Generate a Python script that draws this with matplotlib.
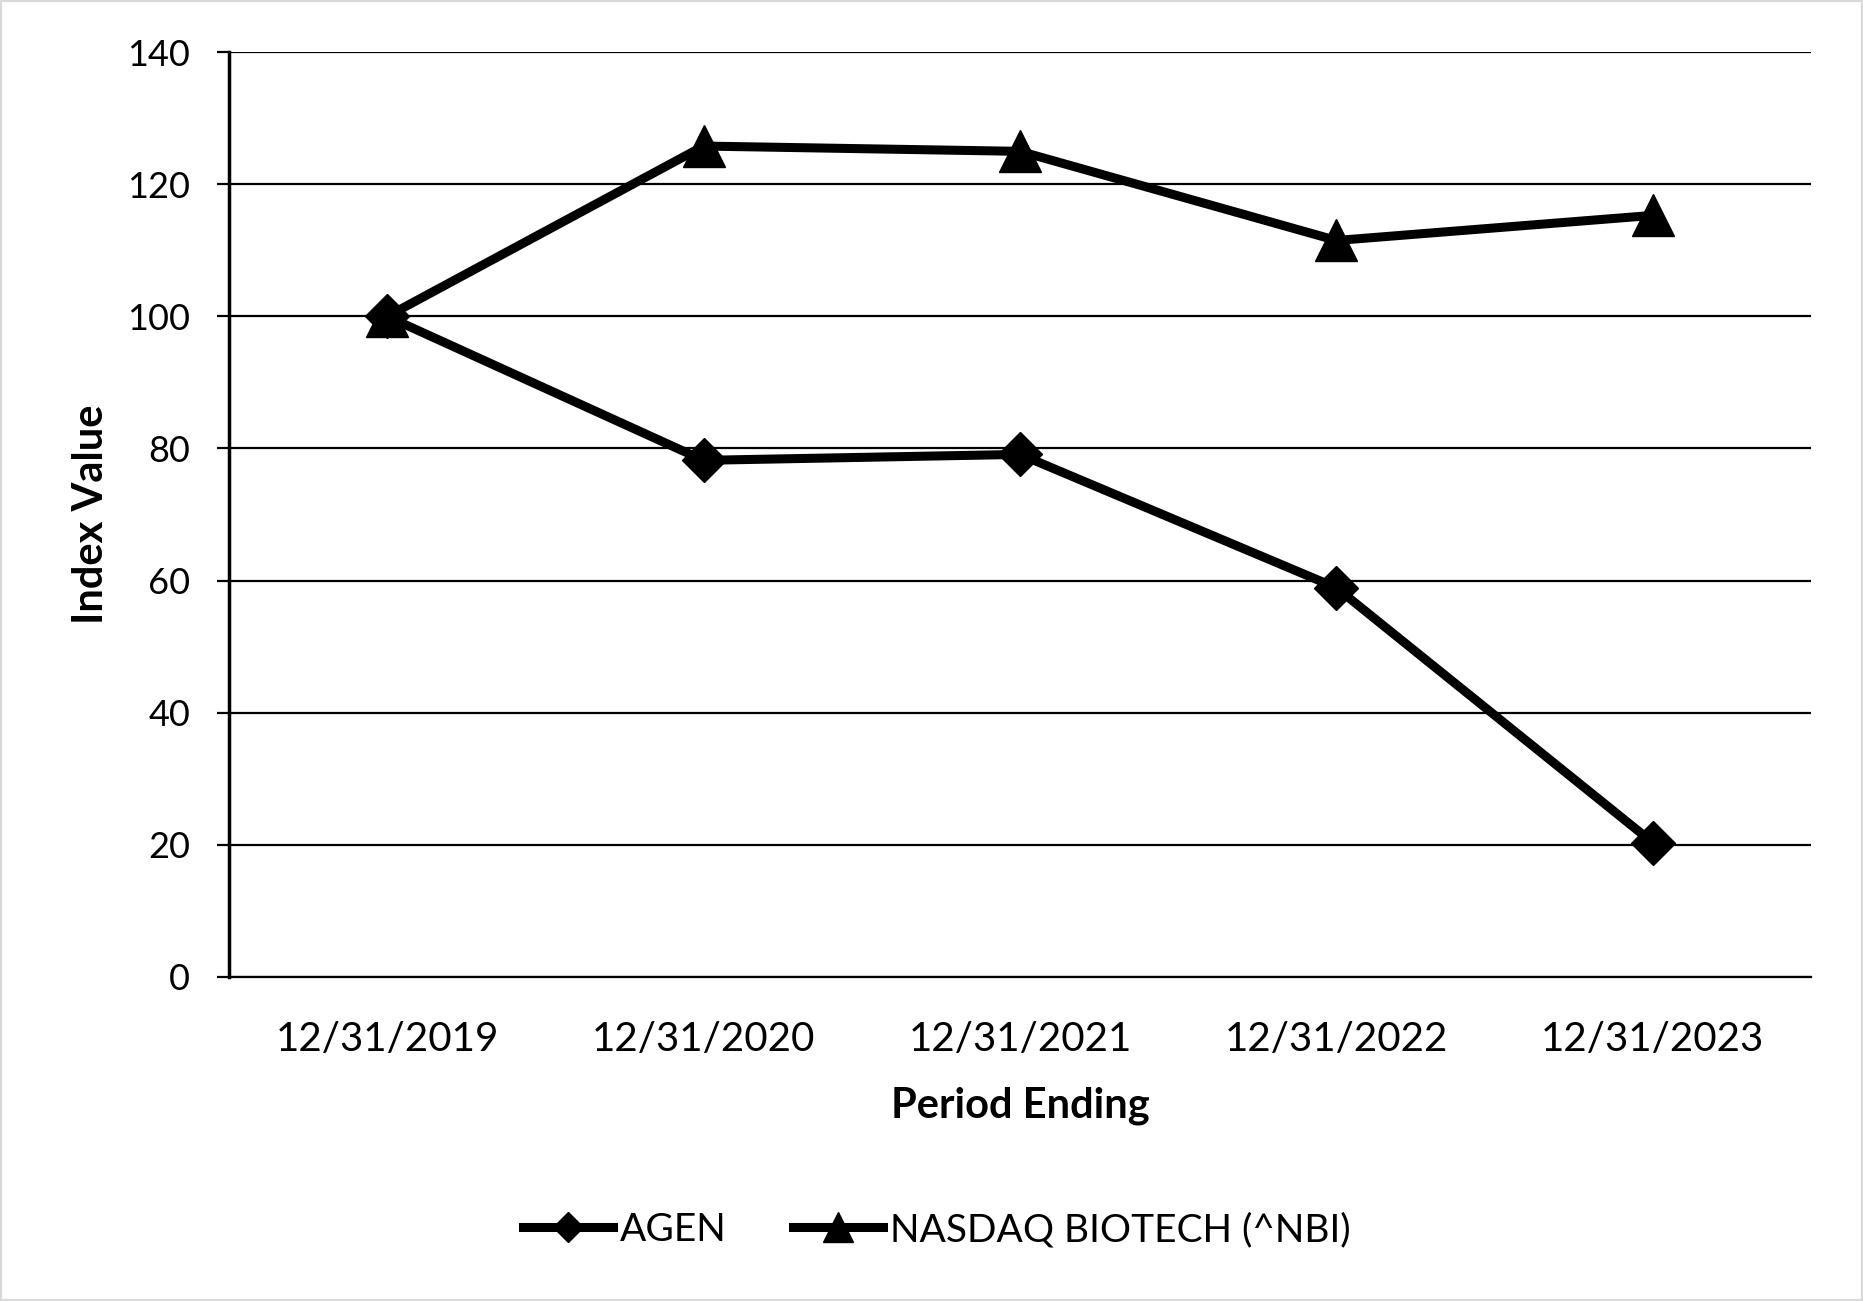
import matplotlib
matplotlib.use('Agg')
import matplotlib.pyplot as plt

# cumulative total return, index = 100 at 12/31/2019
periods = ['12/31/2019', '12/31/2020', '12/31/2021', '12/31/2022', '12/31/2023']
agen = [100, 78.2, 79.1, 58.9, 20.3]
nbi = [100, 125.8, 125.0, 111.5, 115.3]
yticks = [0, 20, 40, 60, 80, 100, 120, 140]

plt.rcParams['font.family'] = ['Lato', 'DejaVu Sans']

fig = plt.figure(figsize=(18.63, 13.01), dpi=100)
ax = fig.add_axes([0.1229, 0.2493, 0.8492, 0.7105])

x = range(len(periods))
ax.plot(x, agen, color='black', lw=6.5, marker='D', ms=22, label='AGEN')
ax.plot(x, nbi, color='black', lw=6.5, marker='^', ms=30, label='NASDAQ BIOTECH (^NBI)')

ax.set_xlim(-0.5, 4.5)
ax.set_ylim(0, 140)
ax.set_yticks(yticks)
ax.set_xticks(list(x))
ax.set_xticklabels(periods)
ax.yaxis.grid(True, color='black', lw=1.6)
ax.set_axisbelow(True)

for s in ['top', 'right']:
    ax.spines[s].set_visible(False)
ax.spines['left'].set_linewidth(2.5)
ax.spines['bottom'].set_linewidth(1.6)
ax.tick_params(axis='y', length=9, width=1.6, pad=19, labelsize=26)
ax.tick_params(axis='x', length=0, pad=32, labelsize=29)

ax.set_ylabel('Index Value', fontsize=30, fontweight='bold', va='center')
ax.yaxis.set_label_coords(-0.0872, 0.5)
ax.set_xlabel('Period Ending', fontsize=30, fontweight='bold', va='center')
ax.xaxis.set_label_coords(0.5, -0.1395)

fig.legend(loc='center', bbox_to_anchor=(0.503, 1 - 1230 / 1301), ncol=2, frameon=False,
           fontsize=28, handlelength=2.3, handletextpad=0.2, columnspacing=1.7,
           markerscale=0.7)

fig.patches.append(plt.Rectangle((0, 0), 1, 1, transform=fig.transFigure, fill=False,
                                 edgecolor='#d9d9d9', lw=3))

fig.savefig('out.png', dpi=100)
